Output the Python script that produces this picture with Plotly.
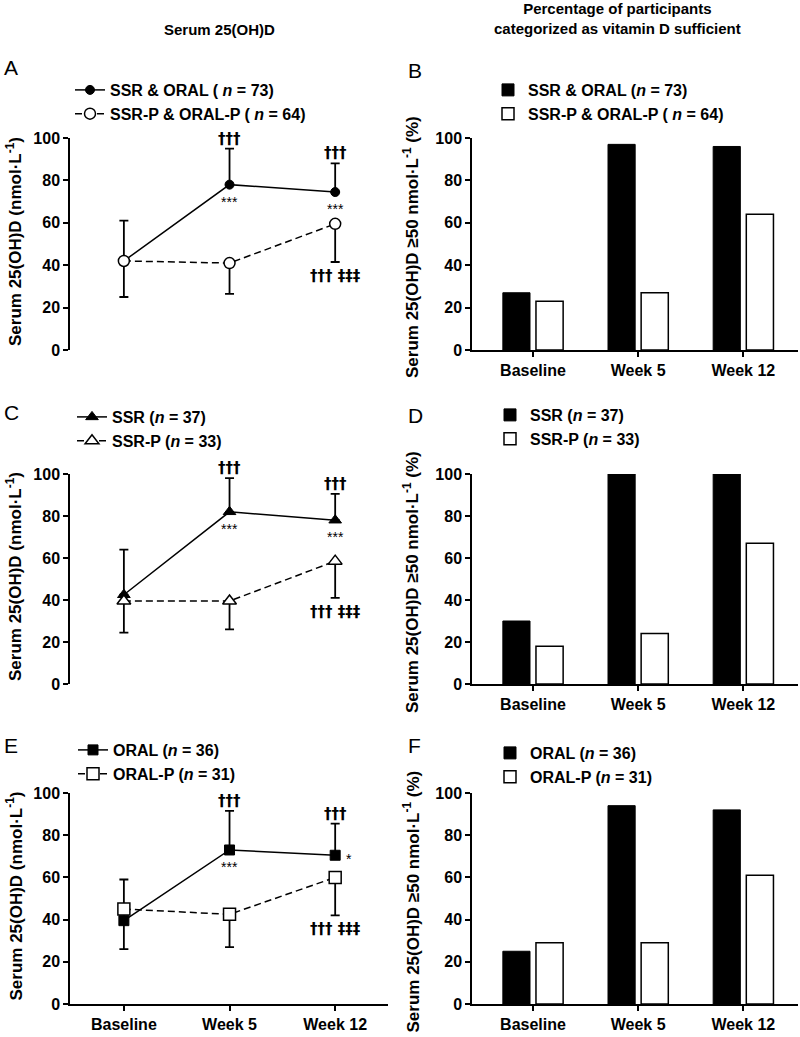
import plotly.graph_objects as go

W, H = 800, 1037
FONT = "Arial, Liberation Sans, sans-serif"

categories = ["Baseline", "Week 5", "Week 12"]
y_ticks = [0, 20, 40, 60, 80, 100]

# ---- Panel A (serum 25(OH)D, mean with one-sided SD) ----
a_active_name = "SSR & ORAL ( <i>n</i> = 73)"
a_active_mean = [42, 78, 74.5]
a_active_sd = [19, 17, 13.5]
a_placebo_name = "SSR-P & ORAL-P ( <i>n</i> = 64)"
a_placebo_mean = [42, 41, 59.5]
a_placebo_sd = [17, 14.5, 18]

# ---- Panel C ----
c_active_name = "SSR (<i>n</i> = 37)"
c_active_mean = [42.5, 82, 78]
c_active_sd = [21.5, 16, 12.5]
c_placebo_name = "SSR-P (<i>n</i> = 33)"
c_placebo_mean = [39.5, 39.5, 58.5]
c_placebo_sd = [15, 13.5, 17.5]

# ---- Panel E ----
e_active_name = "ORAL (<i>n</i> = 36)"
e_active_mean = [39.5, 73, 70.5]
e_active_sd = [19.5, 18.5, 15]
e_placebo_name = "ORAL-P (<i>n</i> = 31)"
e_placebo_mean = [45, 42.5, 60]
e_placebo_sd = [19, 15.5, 18]

# ---- Panels B, D, F (% sufficient) ----
b_active_name = "SSR & ORAL (<i>n</i> = 73)"
b_active_pct = [27, 97, 96]
b_placebo_name = "SSR-P & ORAL-P ( <i>n</i> = 64)"
b_placebo_pct = [23, 27, 64]

d_active_name = "SSR (<i>n</i> = 37)"
d_active_pct = [30, 100, 100]
d_placebo_name = "SSR-P (<i>n</i> = 33)"
d_placebo_pct = [18, 24, 67]

f_active_name = "ORAL (<i>n</i> = 36)"
f_active_pct = [25, 94, 92]
f_placebo_name = "ORAL-P (<i>n</i> = 31)"
f_placebo_pct = [29, 29, 61]

# significance labels
dagger3 = "†††"
dagger_ddagger = "††† ‡‡‡"
stars3 = "***"
star1 = "*"


def px(x):
    return x / W


def py(y):
    return 1 - y / H


rows = [(138, 350), (474, 684), (793, 1004)]
left_col = (70, 388)
right_col = (472, 798)

fig = go.Figure()

line_panels = [
    ("x", "y", "legend", "circle", a_active_name, a_active_mean, a_active_sd,
     a_placebo_name, a_placebo_mean, a_placebo_sd, 9, 11),
    ("x3", "y3", "legend3", "triangle-up", c_active_name, c_active_mean, c_active_sd,
     c_placebo_name, c_placebo_mean, c_placebo_sd, 11, 12),
    ("x5", "y5", "legend5", "square", e_active_name, e_active_mean, e_active_sd,
     e_placebo_name, e_placebo_mean, e_placebo_sd, 10, 12),
]

for (xa, ya, lg, sym, an, am, asd, pn, pm, psd, s_f, s_o) in line_panels:
    fig.add_trace(go.Scatter(
        x=categories, y=am, name=an, mode="lines+markers", xaxis=xa, yaxis=ya, legend=lg,
        line=dict(color="black", width=1.5),
        marker=dict(symbol=sym, size=s_f, color="black", line=dict(color="black", width=1)),
        error_y=dict(type="data", symmetric=False, array=asd, arrayminus=[0] * len(asd),
                     color="black", thickness=1.8, width=4.5),
    ))
    fig.add_trace(go.Scatter(
        x=categories, y=pm, name=pn, mode="lines+markers", xaxis=xa, yaxis=ya, legend=lg,
        line=dict(color="black", width=1.5, dash="7px,4px"),
        marker=dict(symbol=sym, size=s_o, color="white", line=dict(color="black", width=1.5)),
        error_y=dict(type="data", symmetric=False, array=[0] * len(psd), arrayminus=psd,
                     color="black", thickness=1.8, width=4.5),
    ))

bar_panels = [
    ("x2", "y2", "legend2", b_active_name, b_active_pct, b_placebo_name, b_placebo_pct),
    ("x4", "y4", "legend4", d_active_name, d_active_pct, d_placebo_name, d_placebo_pct),
    ("x6", "y6", "legend6", f_active_name, f_active_pct, f_placebo_name, f_placebo_pct),
]
for (xa, ya, lg, an, av, pn, pv) in bar_panels:
    fig.add_trace(go.Bar(x=categories, y=av, name=an, xaxis=xa, yaxis=ya, legend=lg,
                         marker=dict(color="black", line=dict(color="black", width=1)),
                         offsetgroup="a"))
    fig.add_trace(go.Bar(x=categories, y=pv, name=pn, xaxis=xa, yaxis=ya, legend=lg,
                         marker=dict(color="white", line=dict(color="black", width=1.5)),
                         offsetgroup="b"))

tickfont = dict(family=FONT, size=16, color="black", weight="bold")

layout = dict(
    width=W, height=H,
    margin=dict(l=0, r=0, t=0, b=0, autoexpand=False),
    paper_bgcolor="white", plot_bgcolor="white",
    barmode="group", bargap=0.37, bargroupgap=0.18,
    font=dict(family=FONT, color="black"),
)

axis_ids = [("", left_col, rows[0], False), ("2", right_col, rows[0], True),
            ("3", left_col, rows[1], False), ("4", right_col, rows[1], True),
            ("5", left_col, rows[2], True), ("6", right_col, rows[2], True)]
for sid, col, row, showx in axis_ids:
    is_bar = sid in ("2", "4", "6")
    xr = [-0.58, 2.52] if is_bar else [-0.51, 2.5]
    layout["xaxis" + sid] = dict(
        domain=[px(col[0]), px(col[1])], anchor="y" + sid, type="category",
        range=xr, visible=showx, showline=True, linecolor="black", linewidth=1.5,
        ticks="outside", ticklen=5, tickwidth=1.5, tickcolor="black", automargin=False,
        tickfont=tickfont, showgrid=False, zeroline=False, fixedrange=True,
    )
    layout["yaxis" + sid] = dict(
        domain=[py(row[1]), py(row[0])], anchor="x" + sid, range=[0, 100],
        tickvals=y_ticks, showline=True, linecolor="black", linewidth=1.5, automargin=False,
        ticks="outside", ticklen=5, tickwidth=1.5, tickcolor="black",
        tickfont=tickfont, showgrid=False, zeroline=False,
    )

legfont = dict(family=FONT, size=16, color="black", weight="bold")
leg_pos = {"legend": (70, 73), "legend2": (488, 73), "legend3": (72, 400),
           "legend4": (490, 398), "legend5": (73, 733), "legend6": (490, 736)}
for k, (lx, ly) in leg_pos.items():
    layout[k] = dict(x=px(lx), y=py(ly), xanchor="left", yanchor="top",
                     bgcolor="rgba(0,0,0,0)", font=legfont, tracegroupgap=0,
                     itemwidth=30, traceorder="normal")

fig.update_layout(**layout)

ann = []
# headers
ann.append(dict(text="Serum 25(OH)D", x=px(219), y=py(29), xref="paper", yref="paper",
                xanchor="center", yanchor="middle",
                showarrow=False, font=dict(family=FONT, size=15, weight="bold")))
ann.append(dict(text="Percentage of participants<br>categorized as vitamin D sufficient",
                x=px(617), y=py(19), xref="paper", yref="paper", showarrow=False,
                xanchor="center", yanchor="middle",
                font=dict(family=FONT, size=15, weight="bold")))
# panel letters
for letter, lx, ly in [("A", 2, 68), ("B", 406, 71), ("C", 2, 413), ("D", 406, 415),
                       ("E", 2, 745), ("F", 406, 745)]:
    ann.append(dict(text=letter, x=px(lx), y=py(ly), xref="paper", yref="paper",
                    xanchor="left", yanchor="middle", showarrow=False,
                    font=dict(family=FONT, size=21)))
# axis titles
ytitle_l = "Serum 25(OH)D (nmol·L<sup>-1</sup>)"
ytitle_r = "Serum 25(OH)D ≥50 nmol·L<sup>-1</sup> (%)"
for r in rows:
    cy = (r[0] + r[1]) / 2
    ann.append(dict(text=ytitle_l, x=px(14), y=py(cy - 2), xref="paper", yref="paper",
                    xanchor="center", yanchor="middle",
                    textangle=-90, showarrow=False, font=dict(family=FONT, size=17, weight="bold")))
    ann.append(dict(text=ytitle_r, x=px(411), y=py(cy + 3), xref="paper", yref="paper",
                    xanchor="center", yanchor="middle",
                    textangle=-90, showarrow=False, font=dict(family=FONT, size=17, weight="bold")))

# significance marks
sig_font = dict(family="DejaVu Sans, sans-serif", size=15, color="black", weight="bold")
star_font = dict(family=FONT, size=14, color="black")
for (xa, ya, am, asd, pm, psd, last_star) in [
        ("x", "y", a_active_mean, a_active_sd, a_placebo_mean, a_placebo_sd, "below"),
        ("x3", "y3", c_active_mean, c_active_sd, c_placebo_mean, c_placebo_sd, "below"),
        ("x5", "y5", e_active_mean, e_active_sd, e_placebo_mean, e_placebo_sd, "right")]:
    for i in (1, 2):
        ann.append(dict(text=dagger3, x=categories[i], y=am[i] + asd[i], xref=xa, yref=ya,
                        xanchor="center", yanchor="bottom", yshift=-1, showarrow=False,
                        font=sig_font))
    ann.append(dict(text=stars3, x=categories[1], y=am[1], xref=xa, yref=ya,
                    xanchor="center", yanchor="top", yshift=-7, showarrow=False, font=star_font))
    if last_star == "below":
        ann.append(dict(text=stars3, x=categories[2], y=am[2], xref=xa, yref=ya,
                        xanchor="center", yanchor="top", yshift=-7, showarrow=False,
                        font=star_font))
    else:
        ann.append(dict(text=star1, x=categories[2], y=am[2], xref=xa, yref=ya,
                        xanchor="center", yanchor="middle", xshift=14, yshift=-4,
                        showarrow=False, font=star_font))
    ann.append(dict(text=dagger_ddagger, x=categories[2], y=pm[2] - psd[2], xref=xa, yref=ya,
                    xanchor="center", yanchor="top", yshift=-3, showarrow=False, font=sig_font))

fig.update_layout(annotations=ann)
fig.write_html("out.html", config={"displayModeBar": False},
               post_script="document.body.style.margin='0';")
